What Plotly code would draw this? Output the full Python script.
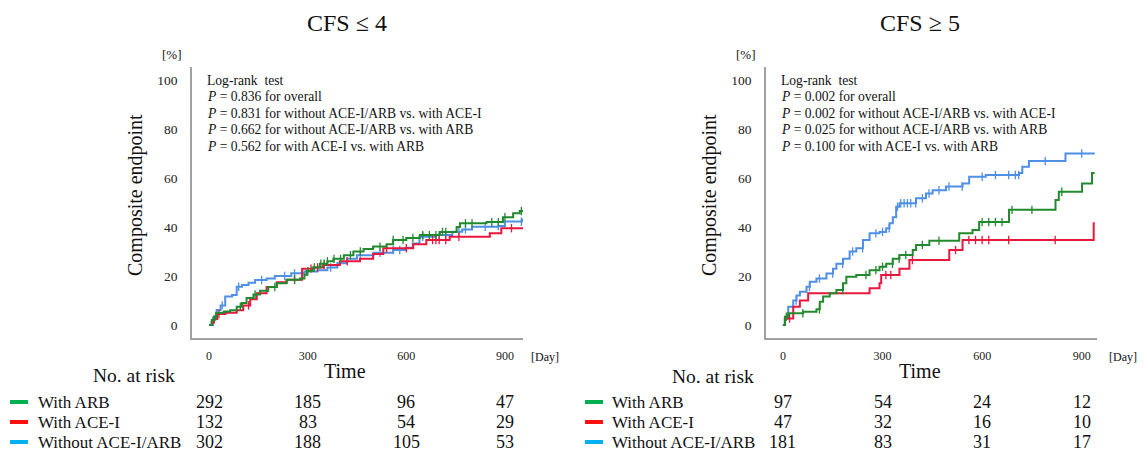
import numpy as np
import plotly.graph_objects as go

# The page body has an 8px margin, so the figure is sized to fit the window inside it.
OFF = 8
W, H = 1147 - OFF, 454 - OFF

# ---------------- data ----------------
GROUPS = ["With ARB", "With ACE-I", "Without ACE-I/ARB"]
PANEL_TITLES = ["CFS \u2264 4", "CFS \u2265 5"]
X_TICKS = [0, 300, 600, 900]
Y_TICKS = [0, 20, 40, 60, 80, 100]

# Left panel (CFS <= 4): step curves (day, cumulative %)
L_ARB_T = [0, 8, 15, 23, 45, 64, 84, 100, 114, 135, 155, 180, 206, 236, 277, 290, 297, 315, 337, 360, 378, 410, 439, 470, 499, 540, 560, 600, 641, 702, 753, 763, 844, 894, 925, 945, 955]
L_ARB_Y = [0, 2, 3.5, 5, 5.5, 6, 7.5, 9, 11, 12.5, 14, 15.5, 17, 18.5, 19, 20.5, 22, 23.5, 25, 26, 27, 28.5, 30, 31, 32, 33, 34.7, 35.5, 36.7, 38, 40, 41.5, 42, 44, 45.6, 46.5, 46.5]
L_ACEI_T = [0, 8, 15, 25, 50, 84, 104, 125, 145, 175, 206, 236, 283, 320, 347, 398, 459, 499, 530, 621, 661, 732, 854, 889, 955]
L_ACEI_Y = [0, 1.0, 2.5, 4.5, 5.0, 6.0, 8.0, 10.5, 13.0, 15.5, 17.5, 18.5, 23.0, 23.5, 24.5, 26.0, 27.0, 29.0, 31.3, 33.0, 34.7, 36.0, 37.4, 39.5, 39.5]
L_NONE_T = [0, 12, 23, 35, 49, 70, 84, 100, 120, 140, 175, 200, 250, 290, 330, 360, 390, 420, 450, 500, 560, 600, 620, 640, 690, 740, 770, 800, 880, 900, 955]
L_NONE_Y = [0, 3.0, 6.1, 8.0, 11.6, 12.2, 15.6, 16.3, 17.2, 18.4, 19.0, 20.0, 21.1, 21.8, 22.4, 23.5, 25.2, 27.0, 28.5, 29.5, 30.6, 31.5, 33.3, 36.0, 36.7, 38.1, 39.0, 40.1, 40.4, 42.2, 43.5]

L_ARB_CENS = [20, 95, 140, 200, 260, 300, 320, 340, 350, 360, 380, 400, 430, 460, 520, 560, 590, 620, 650, 670, 690, 710, 720, 780, 800, 860, 880, 900, 950]
L_ACEI_CENS = [30, 120, 260, 310, 330, 350, 420, 540, 600, 680, 690, 700, 720, 760, 920]
L_NONE_CENS = [40, 90, 160, 230, 260, 300, 370, 460, 520, 560, 580, 650, 700, 720, 760, 780, 840, 880, 950]

# Right panel (CFS >= 5)
R_ARB_T = [0, 6, 16, 61, 101, 111, 121, 141, 161, 181, 191, 221, 261, 291, 311, 331, 351, 391, 401, 441, 531, 571, 591, 681, 821, 831, 901, 931, 939]
R_ARB_Y = [0, 3.4, 4.8, 5.4, 6.4, 9.5, 11.6, 13, 14.3, 17, 19.7, 20.4, 22.4, 23.8, 25, 27, 28.6, 30.6, 32.7, 34.4, 37.4, 38.8, 42, 47, 51, 54.4, 57.8, 62, 62]
R_ACEI_T = [0, 6, 31, 51, 76, 261, 291, 296, 351, 381, 501, 541, 936, 939]
R_ACEI_Y = [0, 2.7, 7.5, 10, 13, 15, 17, 20.4, 23, 26.5, 30.6, 34.7, 41.5, 41.5]
R_NONE_T = [0, 6, 16, 31, 41, 51, 71, 81, 101, 131, 151, 161, 181, 201, 221, 241, 261, 291, 311, 321, 331, 341, 351, 401, 431, 451, 491, 541, 561, 611, 711, 721, 741, 851, 939]
R_NONE_Y = [0, 2.7, 7.5, 10, 12, 13.6, 15.6, 17.7, 19, 21, 23, 25, 27, 30, 31.3, 34.7, 37.4, 38, 39.5, 41.5, 44, 48.3, 49.7, 51.7, 53.7, 55, 56.5, 57.8, 60.5, 61.2, 62, 64.6, 66.9, 70, 70]

R_ARB_CENS = [10, 60, 110, 180, 250, 280, 300, 330, 350, 370, 420, 470, 600, 620, 640, 660, 690, 750, 840]
R_ACEI_CENS = [20, 310, 325, 390, 520, 560, 580, 600, 620, 680, 820]
R_NONE_CENS = [40, 80, 110, 150, 180, 210, 240, 280, 300, 320, 345, 355, 365, 375, 385, 400, 420, 440, 470, 500, 540, 600, 640, 680, 700, 710, 790, 900]

# Numbers at risk
L_RISK = {"With ARB": [292, 185, 96, 47], "With ACE-I": [132, 83, 54, 29], "Without ACE-I/ARB": [302, 188, 105, 53]}
R_RISK = {"With ARB": [97, 54, 24, 12], "With ACE-I": [47, 32, 16, 10], "Without ACE-I/ARB": [181, 83, 31, 17]}

L_PTEXT = ["Log-rank\u00a0 test",
           "<i>P</i> = 0.836 for overall",
           "<i>P</i> = 0.831 for without ACE-I/ARB vs. with ACE-I",
           "<i>P</i> = 0.662 for without ACE-I/ARB vs. with ARB",
           "<i>P</i> = 0.562 for with ACE-I vs. with ARB"]
R_PTEXT = ["Log-rank\u00a0 test",
           "<i>P</i> = 0.002 for overall",
           "<i>P</i> = 0.002 for without ACE-I/ARB vs. with ACE-I",
           "<i>P</i> = 0.025 for without ACE-I/ARB vs. with ARB",
           "<i>P</i> = 0.100 for with ACE-I vs. with ARB"]

# ---------------- style ----------------
FONT = "Liberation Serif, Times New Roman, serif"
CURVE_COL = {"With ARB": "#218a2e", "With ACE-I": "#e8173d", "Without ACE-I/ARB": "#4f8fe6"}
LEG_COL = {"With ARB": "#00b050", "With ACE-I": "#ff1010", "Without ACE-I/ARB": "#00b0f0"}
AXCOL = "#a0a0a0"


def px(x):
    return (x - OFF) / W


def py(y):
    return 1 - (y - OFF) / H


def step_at(ts, ys, c):
    ts = np.asarray(ts); ys = np.asarray(ys)
    idx = np.searchsorted(ts, np.asarray(c), side="right") - 1
    return ys[np.clip(idx, 0, len(ys) - 1)]


fig = go.Figure()

panels = [
    ("x", "y", {"Without ACE-I/ARB": (L_NONE_T, L_NONE_Y, L_NONE_CENS),
                "With ACE-I": (L_ACEI_T, L_ACEI_Y, L_ACEI_CENS),
                "With ARB": (L_ARB_T, L_ARB_Y, L_ARB_CENS)}),
    ("x2", "y2", {"Without ACE-I/ARB": (R_NONE_T, R_NONE_Y, R_NONE_CENS),
                  "With ACE-I": (R_ACEI_T, R_ACEI_Y, R_ACEI_CENS),
                  "With ARB": (R_ARB_T, R_ARB_Y, R_ARB_CENS)}),
]
for xa, ya, curves in panels:
    for g, (t, yv, cens) in curves.items():
        fig.add_trace(go.Scatter(x=t, y=yv, mode="lines", line=dict(color=CURVE_COL[g], width=2, shape="hv"),
                                 xaxis=xa, yaxis=ya, showlegend=False, hoverinfo="skip"))
        fig.add_trace(go.Scatter(x=cens, y=step_at(t, yv, cens), mode="markers",
                                 marker=dict(symbol="line-ns", size=6, line=dict(color=CURVE_COL[g], width=1.3)),
                                 xaxis=xa, yaxis=ya, showlegend=False, hoverinfo="skip"))

xcommon = dict(showline=True, linecolor=AXCOL, linewidth=1.5, showgrid=False, zeroline=False, ticks="",
               tickvals=X_TICKS, tickfont=dict(family=FONT, size=12, color="#222"), ticklabelstandoff=6)
ycommon = dict(showline=True, linecolor=AXCOL, linewidth=1.5, showgrid=False, zeroline=False, ticks="",
               tickvals=Y_TICKS, range=[-5.3, 105.3], tickfont=dict(family=FONT, size=13.5, color="#222"),
               ticklabelstandoff=10)
ydom = [py(338), py(67)]

fig.update_layout(
    width=W, height=H, margin=dict(l=0, r=0, t=0, b=0),
    paper_bgcolor="white", plot_bgcolor="white",
    xaxis=dict(domain=[px(192), px(523)], range=[-52, 955], anchor="y", **xcommon),
    yaxis=dict(domain=ydom, anchor="x", **ycommon),
    xaxis2=dict(domain=[px(766), px(1097)], range=[-51, 946], anchor="y2", **xcommon),
    yaxis2=dict(domain=ydom, anchor="x2", **ycommon),
    font=dict(family=FONT, color="#111"),
)

ann = []


def A(text, x, y, size, xanchor="center", **kw):
    ann.append(dict(text=text, x=x, y=y, xref=kw.pop("xref", "paper"), yref="paper", showarrow=False,
                    xanchor=xanchor, yanchor="middle", font=dict(family=FONT, size=size, color="#111"), **kw))


# titles
A(PANEL_TITLES[0], px(347), py(23), 24)
A(PANEL_TITLES[1], px(920), py(23), 24)
# [%] labels
A("[%]", px(172), py(55), 13)
A("[%]", px(746), py(55), 13)
# y titles
A("Composite endpoint", px(135), py(195), 20, textangle=-90)
A("Composite endpoint", px(709), py(195), 20, textangle=-90)
# Time
A("Time", px(345), py(371), 20)
A("Time", px(920), py(371), 20)
# [Day]
A("[Day]", px(529), py(357), 12, xanchor="left")
A("[Day]", px(1107), py(357), 12, xanchor="left")
# P-value text
for i, (lt, rt) in enumerate(zip(L_PTEXT, R_PTEXT)):
    A(lt, px(205), py(80 + 16.5 * i), 13.6, xanchor="left")
    A(rt, px(779), py(80 + 16.5 * i), 13.6, xanchor="left")
# Risk table
A("No. at risk", px(134), py(375), 19.5)
A("No. at risk", px(713), py(376), 19.5)
rows_y = [402, 422, 442]
shapes = []
for g, ry in zip(GROUPS, rows_y):
    A(g, px(36), py(ry), 17, xanchor="left")
    A(g, px(610), py(ry), 17, xanchor="left")
    shapes.append(dict(type="line", xref="paper", yref="paper", x0=px(10), x1=px(28), y0=py(ry), y1=py(ry),
                       line=dict(color=LEG_COL[g], width=4)))
    shapes.append(dict(type="line", xref="paper", yref="paper", x0=px(585), x1=px(603), y0=py(ry), y1=py(ry),
                       line=dict(color=LEG_COL[g], width=4)))
    for t, n in zip(X_TICKS, L_RISK[g]):
        A(str(n), t, py(ry), 18, xref="x")
    for t, n in zip(X_TICKS, R_RISK[g]):
        A(str(n), t, py(ry), 18, xref="x2")

fig.update_layout(annotations=ann, shapes=shapes)
fig.write_html("out.html")
